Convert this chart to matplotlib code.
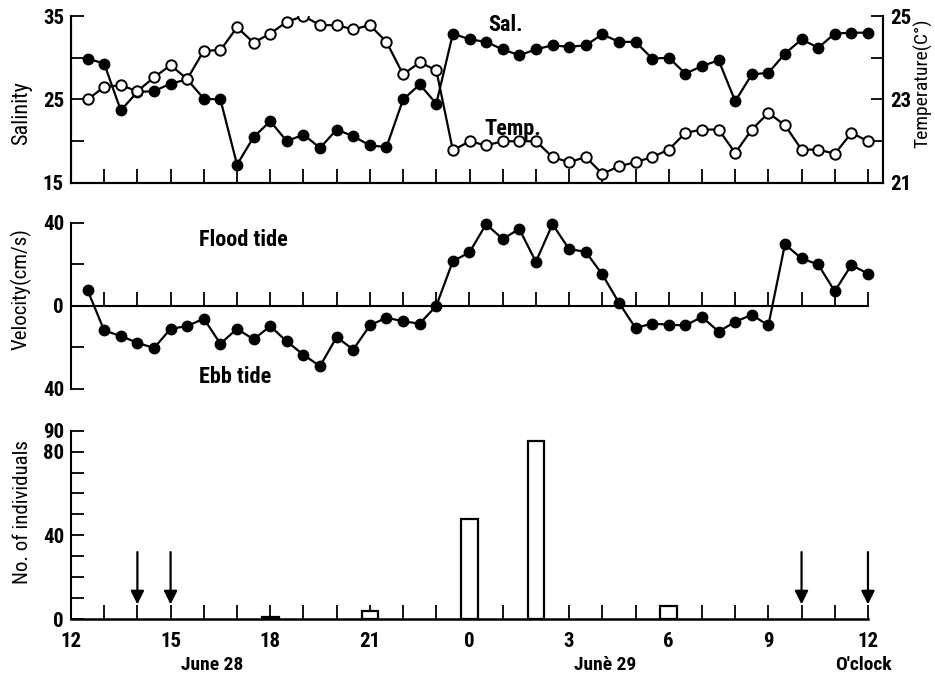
import matplotlib
matplotlib.use('Agg')
import matplotlib.pyplot as plt
from matplotlib import transforms
from matplotlib import font_manager as fm

# pick a narrow face if one is installed
font_choice = 'DejaVu Sans'
for name in ['Liberation Sans Narrow', 'DejaVu Sans Condensed', 'Roboto Condensed',
             'Open Sans Condensed', 'Noto Sans Condensed']:
    try:
        fm.findfont(fm.FontProperties(family=name), fallback_to_default=False)
        font_choice = name
        break
    except ValueError:
        pass
narrow = font_choice != 'DejaVu Sans'
plt.rcParams['font.family'] = [font_choice, 'DejaVu Sans']
plt.rcParams['font.weight'] = 'bold'

# half-hourly sampling, hours after 12:00 on June 28
hours = [0.5 * i for i in range(1, 49)]

salinity = [29.9, 29.3, 23.7, 25.9, 26.0, 26.9, 27.4, 25.1, 25.0, 17.2,
            20.5, 22.4, 20.0, 20.8, 19.2, 21.4, 20.6, 19.5, 19.3, 25.0,
            26.8, 24.5, 32.9, 32.2, 31.9, 31.0, 30.3, 31.0, 31.5, 31.3,
            31.5, 32.8, 31.9, 31.9, 29.9, 30.0, 28.1, 29.0, 29.7, 24.8,
            28.0, 28.2, 30.5, 32.2, 31.2, 32.9, 33.0, 33.0]

temperature = [23.0, 23.3, 23.34, 23.2, 23.53, 23.82, 23.49, 24.17, 24.18, 24.73,
               24.36, 24.58, 24.86, 25.0, 24.78, 24.78, 24.68, 24.78, 24.38, 23.6,
               23.89, 23.7, 21.78, 22.0, 21.9, 22.0, 22.0, 22.0, 21.62, 21.5,
               21.62, 21.22, 21.4, 21.5, 21.62, 21.8, 22.2, 22.28, 22.28, 21.72,
               22.28, 22.68, 22.38, 21.8, 21.8, 21.7, 22.2, 22.0]

velocity = [7.6, -11.8, -14.5, -17.7, -20.3, -11.0, -9.7, -6.1, -18.2, -11.0,
            -16.1, -9.7, -17.1, -23.5, -29.0, -15.0, -21.0, -9.4, -5.6, -7.4,
            -8.5, 0.0, 21.6, 25.8, 39.4, 32.3, 37.1, 21.3, 39.4, 27.4,
            26.1, 15.2, 1.6, -10.6, -8.5, -9.0, -9.4, -5.3, -12.3, -7.7,
            -4.2, -9.4, 29.7, 22.9, 20.0, 7.1, 19.7, 15.6]

catch_hours = [6, 9, 12, 14, 18]
catch_counts = [1, 4, 48, 85, 6]
arrow_hours = [2, 3, 22, 24]

xtick_pos = [0, 3, 6, 9, 12, 15, 18, 21, 24]
xtick_labels = ['12', '15', '18', '21', '0', '3', '6', '9', '12']
date_labels = [(4.25, 'June 28'), (16.1, 'Junè 29'), (23.85, "O'clock")]

fig = plt.figure(figsize=(9.35, 6.81), dpi=100)

lw = 1.6
ms = 7.5
fs = 15 if narrow else 12      # tick labels
ls = 15 if narrow else 12.5    # axis labels / annotations

# ---- top panel: salinity & temperature
ax1 = fig.add_axes([0.0759, 0.7313, 0.8685, 0.2452])
ax2 = ax1.twinx()
ax1.plot(hours, salinity, color='black', lw=lw, marker='o', ms=ms,
         mfc='black', mec='black', zorder=3)
ax2.plot(hours, temperature, color='black', lw=lw, marker='o', ms=ms,
         mfc='white', mec='black', mew=1.4, zorder=3)
ax1.set_xlim(0, 24.45)
ax1.set_ylim(15, 35)
ax2.set_ylim(21, 25)
ax1.set_yticks([15, 20, 25, 30, 35])
ax1.set_yticklabels(['15', '', '25', '', '35'])
ax2.set_yticks([21, 22, 23, 24, 25])
ax2.set_yticklabels(['21', '', '23', '', '25'])
ax1.set_xticks(range(1, 25))
ax1.set_xticklabels([])
for a in (ax1, ax2):
    a.spines['top'].set_visible(False)
    a.spines['left'].set_linewidth(1.5)
    a.spines['right'].set_linewidth(1.5)
    a.spines['bottom'].set_linewidth(1.5)
ax1.tick_params(axis='y', direction='in', length=9, width=1.3, labelsize=fs, pad=5)
ax1.tick_params(axis='x', direction='in', length=10, width=1.3)
ax2.tick_params(axis='y', direction='in', length=9, width=1.3, labelsize=fs, pad=5)
ax1.set_ylabel('Salinity', fontsize=ls + 1, fontweight='normal')
ax1.yaxis.set_label_coords(-0.048, 0.42)
ax2.set_ylabel('Temperature(C°)', fontsize=ls - 1, fontweight='normal')
ax2.yaxis.set_label_coords(1.037, 0.6)
ax1.text(13.1, 33.9, 'Sal.', fontsize=ls + 1, ha='center', va='center')
ax2.text(13.3, 22.3, 'Temp.', fontsize=ls + 1, ha='center', va='center')

# ---- middle panel: current velocity
ax3 = fig.add_axes([0.0759, 0.4288, 0.8524, 0.2438])
ax3.plot(hours, velocity, color='black', lw=lw, marker='o', ms=ms,
         mfc='black', mec='black', zorder=3, clip_on=False)
ax3.set_xlim(0, 24)
ax3.set_ylim(-40, 40)
ax3.set_yticks([-40, -20, 0, 20, 40])
ax3.set_yticklabels(['40', '', '0', '', '40'])
ax3.set_xticks(range(1, 25))
ax3.set_xticklabels([])
ax3.spines['top'].set_visible(False)
ax3.spines['right'].set_visible(False)
ax3.spines['bottom'].set_position(('data', 0))
ax3.spines['left'].set_linewidth(1.5)
ax3.spines['bottom'].set_linewidth(1.5)
ax3.tick_params(axis='y', direction='in', length=9, width=1.3, labelsize=fs, pad=5)
ax3.tick_params(axis='x', direction='in', length=10, width=1.3)
ax3.set_ylabel('Velocity(cm/s)', fontsize=ls, fontweight='normal')
ax3.yaxis.set_label_coords(-0.049, 0.6)
ax3.text(5.2, 32, 'Flood tide', fontsize=ls + 1, ha='center', va='center')
ax3.text(4.95, -34, 'Ebb tide', fontsize=ls + 1, ha='center', va='center')

# ---- bottom panel: number of individuals
ax4 = fig.add_axes([0.0759, 0.0910, 0.8524, 0.2765])
ax4.bar(catch_hours, catch_counts, width=0.5, color='white',
        edgecolor='black', linewidth=1.6, zorder=3)
for h in arrow_hours:
    ax4.annotate('', xy=(h, 7), xytext=(h, 32),
                 arrowprops=dict(arrowstyle='-|>', color='black', lw=1.6,
                                 mutation_scale=20, shrinkA=0, shrinkB=0),
                 annotation_clip=False)
ax4.set_xlim(0, 24)
ax4.set_ylim(0, 90)
ax4.set_yticks(range(0, 100, 10))
ax4.set_yticklabels(['0', '', '', '', '40', '', '', '', '80', '90'])
ax4.set_xticks(range(0, 25))
ax4.set_xticklabels([xtick_labels[xtick_pos.index(i)] if i in xtick_pos else ''
                     for i in range(0, 25)])
ax4.spines['top'].set_visible(False)
ax4.spines['right'].set_visible(False)
ax4.spines['left'].set_linewidth(1.5)
ax4.spines['bottom'].set_linewidth(1.8)
ax4.tick_params(axis='y', direction='in', length=9, width=1.3, labelsize=fs, pad=5)
ax4.tick_params(axis='x', direction='in', length=10, width=1.3, labelsize=fs, pad=9)
ax4.set_ylabel('No. of individuals', fontsize=ls, fontweight='normal')
ax4.yaxis.set_label_coords(-0.049, 0.57)
trans = transforms.blended_transform_factory(ax4.transData, ax4.transAxes)
for x, s in date_labels:
    ax4.text(x, -0.245, s, transform=trans, fontsize=fs - 1, ha='center', va='center')

fig.savefig('out.png', dpi=100)
